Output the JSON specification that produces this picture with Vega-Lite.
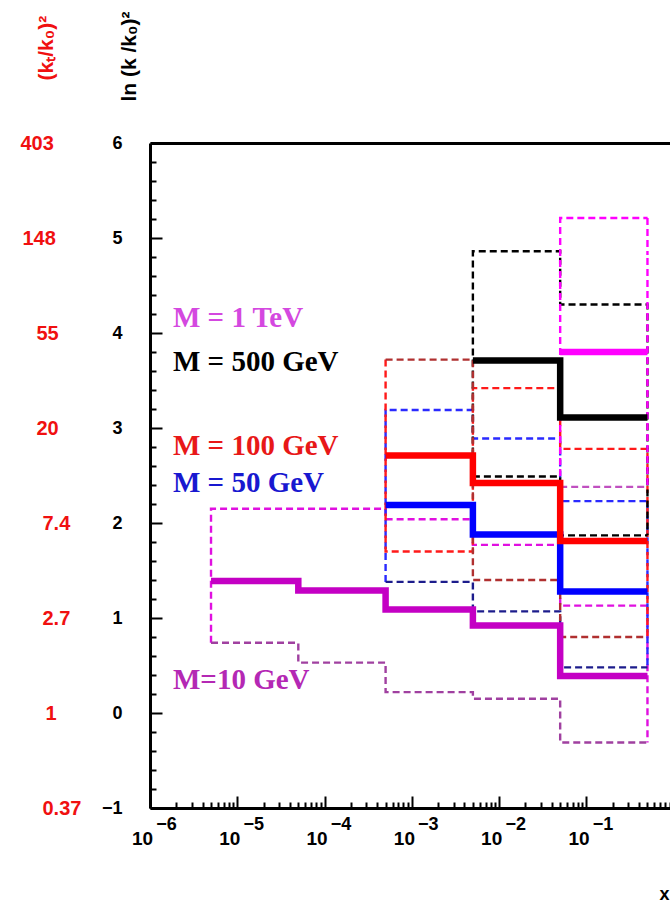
{
  "$schema": "https://vega.github.io/schema/vega-lite/v6.json",
  "width": 520,
  "height": 665,
  "autosize": {"type": "none"},
  "padding": {"left": 150, "top": 143, "right": 0, "bottom": 96},
  "background": "white",
  "config": {"view": {"stroke": null}, "axis": {"grid": false}},
  "datasets": {
    "lines": [
      {"s": "10A", "k": "A", "o": 0, "x": 5e-6, "y": 0.74},
      {"s": "10A", "k": "A", "o": 1, "x": 5e-6, "y": 2.15},
      {"s": "10A", "k": "A", "o": 2, "x": 5e-5, "y": 2.15},
      {"s": "10A", "k": "A", "o": 3, "x": 5e-4, "y": 2.04},
      {"s": "10A", "k": "A", "o": 4, "x": 5e-3, "y": 1.77},
      {"s": "10A", "k": "A", "o": 5, "x": 5e-2, "y": 1.13},
      {"s": "10A", "k": "A", "o": 6, "x": 0.5, "y": 1.13},
      {"s": "10A", "k": "A", "o": 7, "x": 0.5, "y": -0.31},
      {"s": "10B", "k": "B", "o": 0, "x": 5e-6, "y": 0.74},
      {"s": "10B", "k": "B", "o": 1, "x": 5e-5, "y": 0.53},
      {"s": "10B", "k": "B", "o": 2, "x": 5e-4, "y": 0.22},
      {"s": "10B", "k": "B", "o": 3, "x": 5e-3, "y": 0.15},
      {"s": "10B", "k": "B", "o": 4, "x": 5e-2, "y": -0.31},
      {"s": "10B", "k": "B", "o": 5, "x": 0.5, "y": -0.31},
      {"s": "10C", "k": "C", "o": 0, "x": 5e-6, "y": 1.39},
      {"s": "10C", "k": "C", "o": 1, "x": 5e-5, "y": 1.29},
      {"s": "10C", "k": "C", "o": 2, "x": 5e-4, "y": 1.09},
      {"s": "10C", "k": "C", "o": 3, "x": 5e-3, "y": 0.92},
      {"s": "10C", "k": "C", "o": 4, "x": 5e-2, "y": 0.39},
      {"s": "10C", "k": "C", "o": 5, "x": 0.5, "y": 0.39},
      {"s": "50A", "k": "A", "o": 0, "x": 5e-4, "y": 1.38},
      {"s": "50A", "k": "A", "o": 1, "x": 5e-4, "y": 3.19},
      {"s": "50A", "k": "A", "o": 2, "x": 5e-3, "y": 2.89},
      {"s": "50A", "k": "A", "o": 3, "x": 5e-2, "y": 2.23},
      {"s": "50A", "k": "A", "o": 4, "x": 0.5, "y": 2.23},
      {"s": "50A", "k": "A", "o": 5, "x": 0.5, "y": 0.48},
      {"s": "50B", "k": "B", "o": 0, "x": 5e-4, "y": 1.38},
      {"s": "50B", "k": "B", "o": 1, "x": 5e-3, "y": 1.07},
      {"s": "50B", "k": "B", "o": 2, "x": 5e-2, "y": 0.48},
      {"s": "50B", "k": "B", "o": 3, "x": 0.5, "y": 0.48},
      {"s": "50C", "k": "C", "o": 0, "x": 5e-4, "y": 2.19},
      {"s": "50C", "k": "C", "o": 1, "x": 5e-3, "y": 1.88},
      {"s": "50C", "k": "C", "o": 2, "x": 5e-2, "y": 1.28},
      {"s": "50C", "k": "C", "o": 3, "x": 0.5, "y": 1.28},
      {"s": "100A", "k": "A", "o": 0, "x": 5e-4, "y": 3.72},
      {"s": "100A", "k": "A", "o": 1, "x": 5e-4, "y": 1.70},
      {"s": "100A", "k": "A", "o": 2, "x": 5e-3, "y": 3.42},
      {"s": "100A", "k": "A", "o": 3, "x": 5e-2, "y": 2.78},
      {"s": "100A", "k": "A", "o": 4, "x": 0.5, "y": 2.78},
      {"s": "100A", "k": "A", "o": 5, "x": 0.5, "y": 0.80},
      {"s": "100B", "k": "B", "o": 0, "x": 5e-4, "y": 3.72},
      {"s": "100B", "k": "B", "o": 1, "x": 5e-3, "y": 1.40},
      {"s": "100B", "k": "B", "o": 2, "x": 5e-2, "y": 0.80},
      {"s": "100B", "k": "B", "o": 3, "x": 0.5, "y": 0.80},
      {"s": "100C", "k": "C", "o": 0, "x": 5e-4, "y": 2.71},
      {"s": "100C", "k": "C", "o": 1, "x": 5e-3, "y": 2.42},
      {"s": "100C", "k": "C", "o": 2, "x": 5e-2, "y": 1.81},
      {"s": "100C", "k": "C", "o": 3, "x": 0.5, "y": 1.81},
      {"s": "500A", "k": "A", "o": 0, "x": 5e-3, "y": 2.49},
      {"s": "500A", "k": "A", "o": 1, "x": 5e-3, "y": 4.86},
      {"s": "500A", "k": "A", "o": 2, "x": 5e-2, "y": 4.30},
      {"s": "500A", "k": "A", "o": 3, "x": 0.5, "y": 4.30},
      {"s": "500A", "k": "A", "o": 4, "x": 0.5, "y": 1.87},
      {"s": "500B", "k": "B", "o": 0, "x": 5e-3, "y": 2.49},
      {"s": "500B", "k": "B", "o": 1, "x": 5e-2, "y": 1.87},
      {"s": "500B", "k": "B", "o": 2, "x": 0.5, "y": 1.87},
      {"s": "500C", "k": "C", "o": 0, "x": 5e-3, "y": 3.71},
      {"s": "500C", "k": "C", "o": 1, "x": 5e-2, "y": 3.11},
      {"s": "500C", "k": "C", "o": 2, "x": 0.5, "y": 3.11},
      {"s": "1TA", "k": "A", "o": 0, "x": 5e-2, "y": 2.38},
      {"s": "1TA", "k": "A", "o": 1, "x": 5e-2, "y": 5.21},
      {"s": "1TA", "k": "A", "o": 2, "x": 0.5, "y": 5.21},
      {"s": "1TA", "k": "A", "o": 3, "x": 0.5, "y": 2.38},
      {"s": "1TB", "k": "B", "o": 0, "x": 5e-2, "y": 2.38},
      {"s": "1TB", "k": "B", "o": 1, "x": 0.5, "y": 2.38},
      {"s": "1TC", "k": "C", "o": 0, "x": 5e-2, "y": 3.80},
      {"s": "1TC", "k": "C", "o": 1, "x": 0.5, "y": 3.80}
    ],
    "labels": [
      {"t": "M = 1 TeV", "x": 1.834e-6, "y": 4.16},
      {"t": "M = 500 GeV", "x": 1.834e-6, "y": 3.70},
      {"t": "M = 100 GeV", "x": 1.834e-6, "y": 2.81},
      {"t": "M = 50 GeV", "x": 1.834e-6, "y": 2.42},
      {"t": "M=10 GeV", "x": 1.834e-6, "y": 0.35}
    ]
  },
  "resolve": {"axis": {"x": "independent", "y": "independent"}, "scale": {"color": "independent"}},
  "layer": [
    {
      "data": {"name": "lines"},
      "transform": [{"filter": "datum.k == 'A'"}],
      "mark": {"type": "line", "interpolate": "step-after", "strokeWidth": 2.4, "strokeDash": [7, 4]},
      "encoding": {
        "x": {"field": "x", "type": "quantitative",
          "scale": {"type": "log", "domain": [1e-6, 0.906], "nice": false},
          "axis": {"orient": "bottom", "values": [1e-6, 1e-5, 1e-4, 1e-3, 1e-2, 1e-1], "labelExpr": "'10'",
            "tickSize": -12, "tickWidth": 2, "tickColor": "black", "domain": true, "domainWidth": 3, "domainColor": "black",
            "labelFont": "Liberation Sans", "labelFontWeight": "bold", "labelFontSize": 19, "labelColor": "black",
            "labelOffset": -8, "labelPadding": 33, "labelAlign": "center", "labelBaseline": "top", "labelFlush": false, "labelOverlap": false, "labelBound": false, "title": null}},
        "y": {"field": "y", "type": "quantitative",
          "scale": {"domain": [-1, 6], "nice": false, "zero": false},
          "axis": {"orient": "left", "values": [-1, 0, 1, 2, 3, 4, 5, 6], "format": "d",
            "tickSize": -12, "tickWidth": 2, "tickColor": "black", "domain": true, "domainWidth": 3, "domainColor": "black",
            "labelFont": "Liberation Sans", "labelFontWeight": "bold", "labelFontSize": 18, "labelColor": "black",
            "labelPadding": 40, "labelAlign": "right", "labelBaseline": "middle", "labelFlush": false, "labelOverlap": false, "labelBound": false,
            "title": "ln (k /k₀)²", "titleFont": "Liberation Sans", "titleFontWeight": "bold", "titleFontSize": 21, "titleColor": "black",
            "titleAngle": 270, "titleAlign": "left", "titleBaseline": "middle", "titleX": -21, "titleY": -42}},
        "order": {"field": "o", "type": "quantitative"},
        "detail": {"field": "s"},
        "color": {"field": "s", "type": "nominal", "legend": null,
          "scale": {"domain": ["10A", "10B", "10C", "50A", "50B", "50C", "100A", "100B", "100C", "500A", "500B", "500C", "1TA", "1TB", "1TC"],
            "range": ["#e010e0", "#a040a0", "#c400c4", "#2a2aff", "#1c1c8c", "#0000ff", "#ff1a1a", "#b03030", "#ff0000", "#000000", "#000000", "#000000", "#ff00ff", "#c050c0", "#ff00ff"]}}
      }
    },
    {
      "data": {"name": "lines"},
      "transform": [{"filter": "datum.k == 'B'"}],
      "mark": {"type": "line", "interpolate": "step-after", "strokeWidth": 2.4, "strokeDash": [7, 4]},
      "encoding": {
        "x": {"field": "x", "type": "quantitative",
          "scale": {"type": "log", "domain": [1e-6, 0.906], "nice": false},
          "axis": {"orient": "top", "domain": true, "domainWidth": 3, "domainColor": "black", "ticks": false, "labels": false, "title": null}},
        "y": {"field": "y", "type": "quantitative",
          "scale": {"domain": [-1, 6], "nice": false, "zero": false},
          "axis": {"orient": "left", "values": [-0.8, -0.6, -0.4, -0.2, 0.2, 0.4, 0.6, 0.8, 1.2, 1.4, 1.6, 1.8, 2.2, 2.4, 2.6, 2.8, 3.2, 3.4, 3.6, 3.8, 4.2, 4.4, 4.6, 4.8, 5.2, 5.4, 5.6, 5.8],
            "tickSize": -6, "tickWidth": 2, "tickColor": "black", "domain": false, "labels": false, "title": null}},
        "order": {"field": "o", "type": "quantitative"},
        "detail": {"field": "s"},
        "color": {"field": "s", "type": "nominal", "legend": null,
          "scale": {"domain": ["10A", "10B", "10C", "50A", "50B", "50C", "100A", "100B", "100C", "500A", "500B", "500C", "1TA", "1TB", "1TC"],
            "range": ["#e010e0", "#a040a0", "#c400c4", "#2a2aff", "#1c1c8c", "#0000ff", "#ff1a1a", "#b03030", "#ff0000", "#000000", "#000000", "#000000", "#ff00ff", "#c050c0", "#ff00ff"]}}
      }
    },
    {
      "data": {"name": "lines"},
      "transform": [{"filter": "datum.k == 'C'"}],
      "mark": {"type": "line", "interpolate": "step-after", "strokeWidth": 6.5},
      "encoding": {
        "x": {"field": "x", "type": "quantitative",
          "scale": {"type": "log", "domain": [1e-6, 0.906], "nice": false},
          "axis": {"orient": "bottom", "values": [2e-6, 3e-6, 4e-6, 5e-6, 6e-6, 7e-6, 8e-6, 9e-6, 2e-5, 3e-5, 4e-5, 5e-5, 6e-5, 7e-5, 8e-5, 9e-5, 2e-4, 3e-4, 4e-4, 5e-4, 6e-4, 7e-4, 8e-4, 9e-4, 2e-3, 3e-3, 4e-3, 5e-3, 6e-3, 7e-3, 8e-3, 9e-3, 0.02, 0.03, 0.04, 0.05, 0.06, 0.07, 0.08, 0.09, 0.2, 0.3, 0.4, 0.5, 0.6, 0.7, 0.8, 0.9],
            "tickSize": -6, "tickWidth": 2, "tickColor": "black", "domain": false, "labels": false, "title": null}},
        "y": {"field": "y", "type": "quantitative",
          "scale": {"domain": [-1, 6], "nice": false, "zero": false},
          "axis": {"orient": "left", "values": [-1, 0, 1, 2, 3, 4, 5, 6], "ticks": false, "domain": false,
            "labelExpr": "datum.value >= 5 ? format(exp(datum.value), '.3~r') : format(exp(datum.value), '.2~r')",
            "labelFont": "Liberation Sans", "labelFontWeight": "bold", "labelFontSize": 20, "labelColor": "#f01010",
            "labelAlign": "left", "labelBaseline": "middle", "labelFlush": false, "labelOverlap": false, "labelBound": false,
            "labelPadding": {"condition": [{"test": "datum.value >= 5.5", "value": 130}, {"test": "datum.value >= 4.5", "value": 128}, {"test": "datum.value >= 2.5", "value": 114}, {"test": "datum.value >= 0.5", "value": 108}, {"test": "datum.value >= -0.5", "value": 105}], "value": 108},
            "title": "(kₜ/k₀)²", "titleFont": "Liberation Sans", "titleFontWeight": "bold", "titleFontSize": 21, "titleColor": "#f01010",
            "titleAngle": 270, "titleAlign": "left", "titleBaseline": "middle", "titleX": -104, "titleY": -63}},
        "order": {"field": "o", "type": "quantitative"},
        "detail": {"field": "s"},
        "color": {"field": "s", "type": "nominal", "legend": null,
          "scale": {"domain": ["10A", "10B", "10C", "50A", "50B", "50C", "100A", "100B", "100C", "500A", "500B", "500C", "1TA", "1TB", "1TC"],
            "range": ["#e010e0", "#a040a0", "#c400c4", "#2a2aff", "#1c1c8c", "#0000ff", "#ff1a1a", "#b03030", "#ff0000", "#000000", "#000000", "#000000", "#ff00ff", "#c050c0", "#ff00ff"]}}
      }
    },
    {
      "data": {"name": "labels"},
      "mark": {"type": "text", "font": "Liberation Serif", "fontWeight": "bold", "fontSize": 29, "align": "left", "baseline": "middle"},
      "encoding": {
        "x": {"field": "x", "type": "quantitative",
          "scale": {"type": "log", "domain": [1e-6, 0.906], "nice": false},
          "axis": {"orient": "bottom", "values": [1e-6, 1e-5, 1e-4, 1e-3, 1e-2, 1e-1],
            "labelExpr": "'−' + round(-log(datum.value) / LN10)",
            "ticks": false, "domain": false,
            "labelFont": "Liberation Sans", "labelFontWeight": "bold", "labelFontSize": 18, "labelColor": "black",
            "labelOffset": 16, "labelPadding": 7, "labelAlign": "center", "labelBaseline": "top", "labelFlush": false, "labelOverlap": false, "labelBound": false,
            "title": "x", "titleFont": "Liberation Sans", "titleFontWeight": "bold", "titleFontSize": 18, "titleColor": "black",
            "titleAlign": "left", "titleBaseline": "middle", "titleX": 509, "titleY": 86, "titleAngle": 0}},
        "y": {"field": "y", "type": "quantitative", "scale": {"domain": [-1, 6], "nice": false, "zero": false}, "axis": null},
        "text": {"field": "t"},
        "color": {"field": "t", "type": "nominal", "legend": null,
          "scale": {"domain": ["M = 1 TeV", "M = 500 GeV", "M = 100 GeV", "M = 50 GeV", "M=10 GeV"],
            "range": ["#d448e0", "#000000", "#e81818", "#1818d0", "#b428b4"]}}
      }
    }
  ]
}
